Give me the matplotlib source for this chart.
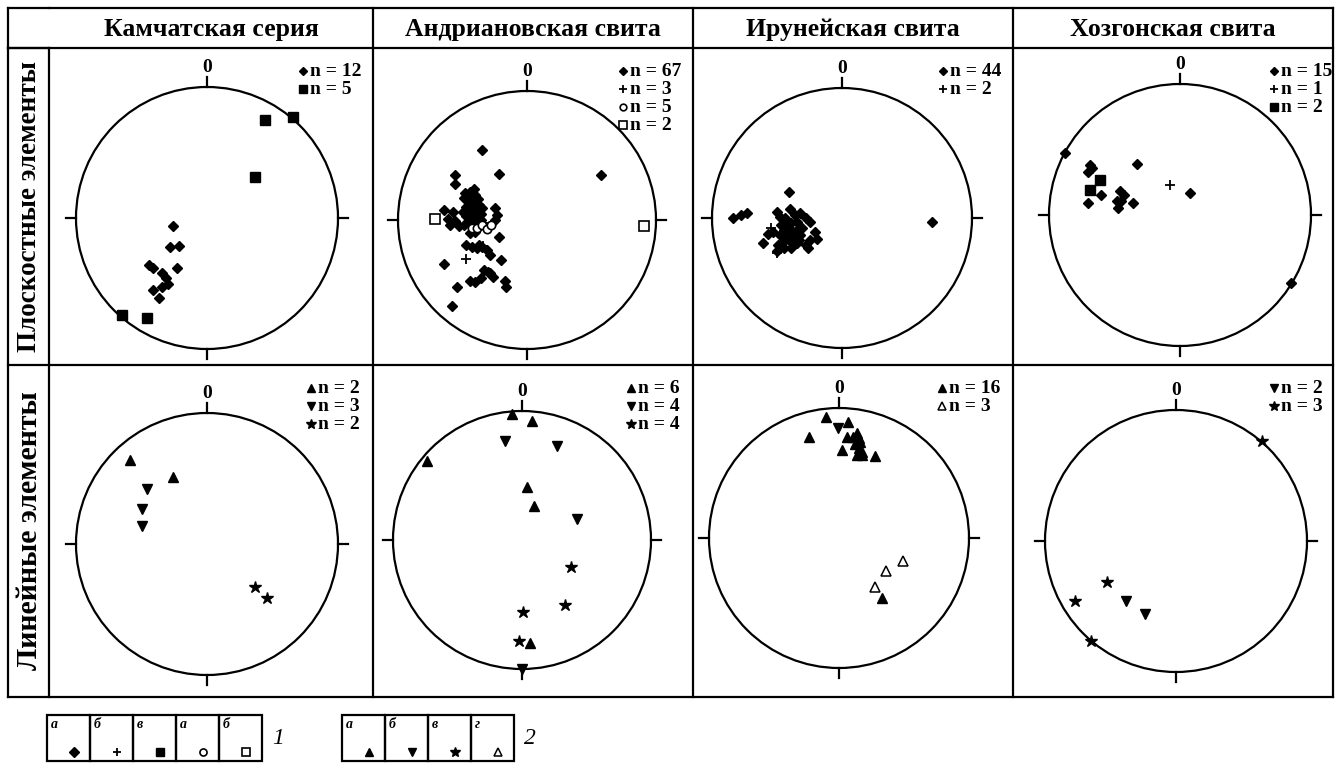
"""
Stereonets of planar and linear elements for four units (4 x 2 table)
"""
import matplotlib
matplotlib.use('Agg')
from matplotlib import pyplot as plt

plt.rcParams['font.family'] = ['Liberation Serif', 'DejaVu Serif']

W, H = 1335, 765

columns = ['Камчатская серия', 'Андриановская свита', 'Ирунейская свита', 'Хозгонская свита']
rows = ['Плоскостные элементы', 'Линейные элементы']

# points on the net: x = east, y = north, net radius = 1
# --- planar elements ---
kam_pl_diamond = ([-0.26, -0.28, -0.21, -0.44, -0.41, -0.23, -0.34, -0.31, -0.30, -0.34, -0.41, -0.37],
                  [-0.06, -0.22, -0.21, -0.36, -0.38, -0.38, -0.42, -0.46, -0.50, -0.53, -0.55, -0.61])
kam_pl_square = ([0.44, 0.66, 0.37, -0.65, -0.46],
                 [0.75, 0.77, 0.31, -0.74, -0.76])

and_pl_diamond = ([-0.35, -0.22, -0.56, -0.56, 0.57,
                   -0.48, -0.44, -0.40, -0.49, -0.46, -0.42, -0.38, -0.47, -0.43, -0.39, -0.35,
                   -0.44, -0.40, -0.36, -0.47, -0.43, -0.39, -0.42, -0.38, -0.40, -0.44,
                   -0.25, -0.23, -0.25,
                   -0.64, -0.57, -0.61, -0.56, -0.60, -0.53, -0.49,
                   -0.22,
                   -0.47, -0.43, -0.39, -0.35, -0.31, -0.29,
                   -0.20, -0.64,
                   -0.33, -0.29, -0.26, -0.36, -0.40, -0.44,
                   -0.17, -0.16, -0.54, -0.58,
                   -0.41, -0.45, -0.37, -0.41, -0.38, -0.45, -0.42, -0.37, -0.30, -0.50, -0.44, -0.36],
                  [0.54, 0.36, 0.35, 0.28, 0.35,
                   0.21, 0.22, 0.19, 0.17, 0.16, 0.14, 0.16, 0.10, 0.10, 0.10, 0.09,
                   0.06, 0.05, 0.05, 0.03, 0.01, 0.00, -0.04, -0.05, -0.09, -0.10,
                   0.09, 0.04, 0.00,
                   0.08, 0.06, 0.01, -0.01, -0.04, -0.05, -0.04,
                   -0.13,
                   -0.19, -0.21, -0.22, -0.21, -0.23, -0.27,
                   -0.31, -0.34,
                   -0.39, -0.41, -0.44, -0.45, -0.48, -0.47,
                   -0.47, -0.52, -0.52, -0.67,
                   0.24, 0.12, 0.12, 0.07, 0.02, -0.02, -0.07, -0.19, -0.40, 0.06, 0.19, 0.00])
and_pl_plus = ([-0.47, -0.34, -0.33], [-0.30, -0.20, -0.02])
and_pl_circle = ([-0.43, -0.39, -0.35, -0.31, -0.28], [-0.06, -0.06, -0.04, -0.07, -0.04])
and_pl_square_open = ([-0.71, 0.91], [0.01, -0.05])

iru_pl_diamond = ([-0.41, -0.84, -0.78, -0.73,
                   -0.50, -0.40, -0.48, -0.44, -0.36, -0.32, -0.28, -0.25, -0.35, -0.39,
                   -0.43, -0.45, -0.39, -0.35, -0.31, -0.53, -0.57, -0.48, -0.41, -0.36,
                   -0.32, -0.21, -0.19, -0.25, -0.28, -0.35, -0.40, -0.45, -0.49, -0.45,
                   -0.50, -0.61, -0.39, -0.26,
                   0.69,
                   -0.42, -0.38, -0.44, -0.33, -0.47],
                  [0.20, 0.00, 0.02, 0.04,
                   0.05, 0.07, 0.01, 0.00, 0.02, 0.04, 0.00, -0.03, -0.03, -0.04,
                   -0.07, -0.09, -0.09, -0.09, -0.08, -0.11, -0.12, -0.13, -0.13, -0.14,
                   -0.13, -0.11, -0.16, -0.17, -0.21, -0.19, -0.18, -0.18, -0.21, -0.23,
                   -0.25, -0.19, -0.23, -0.23,
                   -0.03,
                   -0.02, -0.12, -0.15, -0.17, -0.05])
iru_pl_plus = ([-0.50, -0.55], [-0.27, -0.08])

hoz_pl_diamond = ([-0.88, -0.69, -0.67, -0.70, -0.33, -0.60, -0.70, -0.46, -0.43, -0.48,
                   -0.47, -0.45, -0.36, 0.08, 0.85],
                  [0.47, 0.38, 0.36, 0.33, 0.39, 0.15, 0.09, 0.18, 0.15, 0.11,
                   0.05, 0.11, 0.09, 0.17, -0.52])
hoz_pl_plus = ([-0.08], [0.23])
hoz_pl_square = ([-0.61, -0.69], [0.27, 0.19])

# --- linear elements ---
kam_ln_up = ([-0.59, -0.26], [0.64, 0.51])
kam_ln_down = ([-0.46, -0.50, -0.50], [0.42, 0.27, 0.14])
kam_ln_star = ([0.37, 0.46], [-0.33, -0.41])

and_ln_up = ([-0.08, 0.08, -0.74, 0.04, 0.09, 0.06], [0.98, 0.92, 0.61, 0.41, 0.26, -0.80])
and_ln_down = ([-0.13, 0.27, 0.43, 0.00], [0.77, 0.73, 0.16, -1.00])
and_ln_star = ([0.38, 0.33, 0.01, -0.02], [-0.21, -0.50, -0.56, -0.78])

iru_ln_up = ([-0.10, 0.07, -0.23, 0.06, 0.14, 0.15, 0.16, 0.12, 0.15, 0.18, 0.14, 0.18,
              0.02, 0.28, 0.33, 0.11],
             [0.93, 0.89, 0.78, 0.78, 0.81, 0.77, 0.74, 0.72, 0.69, 0.66, 0.64, 0.64,
              0.68, 0.63, -0.46, 0.78])
iru_ln_down = ([-0.01], [0.85])
iru_ln_up_open = ([0.49, 0.36, 0.28], [-0.18, -0.25, -0.38])

hoz_ln_down = ([-0.38, -0.24], [-0.46, -0.56])
hoz_ln_star = ([0.66, -0.53, -0.77, -0.65], [0.76, -0.31, -0.46, -0.76])

# legend counts written in each net
legend_counts = [
    [('diamond', 'n = 12'), ('square', 'n = 5')],
    [('diamond', 'n = 67'), ('plus', 'n = 3'), ('circle', 'n = 5'), ('square_open', 'n = 2')],
    [('diamond', 'n = 44'), ('plus', 'n = 2')],
    [('diamond', 'n = 15'), ('plus', 'n = 1'), ('square', 'n = 2')],
    [('up', 'n = 2'), ('down', 'n = 3'), ('star', 'n = 2')],
    [('up', 'n = 6'), ('down', 'n = 4'), ('star', 'n = 4')],
    [('up', 'n = 16'), ('up_open', 'n = 3')],
    [('down', 'n = 2'), ('star', 'n = 3')],
]

panel_data = [
    [('diamond', kam_pl_diamond), ('square', kam_pl_square)],
    [('diamond', and_pl_diamond), ('plus', and_pl_plus), ('circle', and_pl_circle),
     ('square_open', and_pl_square_open)],
    [('diamond', iru_pl_diamond), ('plus', iru_pl_plus)],
    [('diamond', hoz_pl_diamond), ('plus', hoz_pl_plus), ('square', hoz_pl_square)],
    [('up', kam_ln_up), ('down', kam_ln_down), ('star', kam_ln_star)],
    [('up', and_ln_up), ('down', and_ln_down), ('star', and_ln_star)],
    [('up', iru_ln_up), ('down', iru_ln_down), ('up_open', iru_ln_up_open)],
    [('down', hoz_ln_down), ('star', hoz_ln_star)],
]

symbols = {
    'diamond': dict(marker='D', ms=5.5, mfc='black', mec='black'),
    'plus': dict(marker='+', ms=7, mec='black', mew=1.3),
    'square': dict(marker='s', ms=6.5, mfc='black', mec='black'),
    'circle': dict(marker='o', ms=6, mfc='white', mec='black', mew=1.2),
    'square_open': dict(marker='s', ms=6.5, mfc='white', mec='black', mew=1.2),
    'up': dict(marker='^', ms=6.5, mfc='black', mec='black'),
    'down': dict(marker='v', ms=6.5, mfc='black', mec='black'),
    'star': dict(marker='*', ms=9, mfc='black', mec='black'),
    'up_open': dict(marker='^', ms=6.5, mfc='white', mec='black', mew=1.1),
}

# layout in pixels
col_x = [8, 49, 373, 693, 1013, 1333]
row_y = [8, 48, 365, 697]
centers = [(207, 218, 131), (527, 220, 129), (842, 218, 130), (1180, 215, 131),
           (207, 544, 131), (522, 540, 129), (839, 538, 130), (1176, 541, 131)]
legend_left = [63, 63, 63, 52, 55, 55, 64, 52]
row_font = [19.5, 21.5]

fig = plt.figure(figsize=(W / 100, H / 100), dpi=100)
bg = fig.add_axes([0, 0, 1, 1])
bg.set_xlim(0, W)
bg.set_ylim(H, 0)
bg.axis('off')

lw = 1.6
# table frame
for x in col_x:
    y0 = row_y[1] if x == col_x[1] else row_y[0]
    bg.plot([x, x], [y0, row_y[-1]], color='black', lw=lw, solid_capstyle='projecting')
bg.plot([col_x[1], col_x[-1]], [row_y[0], row_y[0]], color='black', lw=lw)
bg.plot([col_x[0], col_x[1]], [row_y[1], row_y[1]], color='black', lw=lw)
for y in row_y[1:]:
    bg.plot([col_x[0], col_x[-1]], [y, y], color='black', lw=lw)
bg.plot([col_x[0], col_x[1]], [row_y[0], row_y[0]], color='black', lw=lw)

for i, name in enumerate(columns):
    bg.text((col_x[i + 1] + col_x[i + 2]) / 2, (row_y[0] + row_y[1]) / 2 + 1, name,
            ha='center', va='center', fontsize=18.5, fontweight='bold')
for j, name in enumerate(rows):
    bg.text((col_x[0] + col_x[1]) / 2 + 1, (row_y[j + 1] + row_y[j + 2]) / 2, name,
            ha='center', va='center', fontsize=row_font[j], fontweight='bold', rotation=90)

for k in range(8):
    cx, cy, r = centers[k]
    span = 1.3
    ax = fig.add_axes([(cx - span * r) / W, (H - cy - span * r) / H,
                       2 * span * r / W, 2 * span * r / H])
    ax.set_xlim(-span, span)
    ax.set_ylim(-span, span)
    ax.axis('off')
    ax.add_patch(plt.Circle((0, 0), 1, fill=False, lw=1.6, color='black'))
    t = 0.08
    ax.plot([0, 0], [1, 1 + t], color='black', lw=1.6)
    ax.plot([0, 0], [-1, -1 - t], color='black', lw=1.6)
    ax.plot([1, 1 + t], [0, 0], color='black', lw=1.6)
    ax.plot([-1, -1 - t], [0, 0], color='black', lw=1.6)
    ax.text(0, 1.15, '0', ha='center', va='center', fontsize=14, fontweight='bold')
    for sym, (xs, ys) in panel_data[k]:
        ax.plot(xs, ys, ls='none', clip_on=False, **symbols[sym])

    # n = ... legend in the upper right corner of the cell
    col = k % 4
    row = k // 4
    right = col_x[col + 2]
    tx = right - legend_left[k]
    ty = row_y[row + 1] + 23
    for sym, label in legend_counts[k]:
        st = dict(symbols[sym])
        st['ms'] = st['ms'] * 0.8
        bg.plot([tx - 7], [ty], ls='none', **st)
        bg.text(tx, ty, label, ha='left', va='center', fontsize=14, fontweight='bold')
        ty += 18

# symbol key under the table
key1 = [('а', 'diamond'), ('б', 'plus'), ('в', 'square'), ('а', 'circle'), ('б', 'square_open')]
key2 = [('а', 'up'), ('б', 'down'), ('в', 'star'), ('г', 'up_open')]
for x0, key, num in [(47, key1, '1'), (342, key2, '2')]:
    cw = 43
    y0, y1 = 715, 761
    for i, (letter, sym) in enumerate(key):
        bg.add_patch(plt.Rectangle((x0 + i * cw, y0), cw, y1 - y0, fill=False, lw=1.6,
                                   edgecolor='black'))
        bg.text(x0 + i * cw + 4, y0 + 9, letter, ha='left', va='center', fontsize=10,
                style='italic', fontweight='bold')
        st = dict(symbols[sym])
        st['ms'] = st['ms'] * 0.85
        bg.plot([x0 + i * cw + 0.62 * cw], [y0 + 0.8 * (y1 - y0)], ls='none', **st)
    bg.text(x0 + len(key) * cw + 10, (y0 + y1) / 2, num, ha='left', va='center',
            fontsize=17, style='italic')

plt.savefig('out.png', dpi=100)
